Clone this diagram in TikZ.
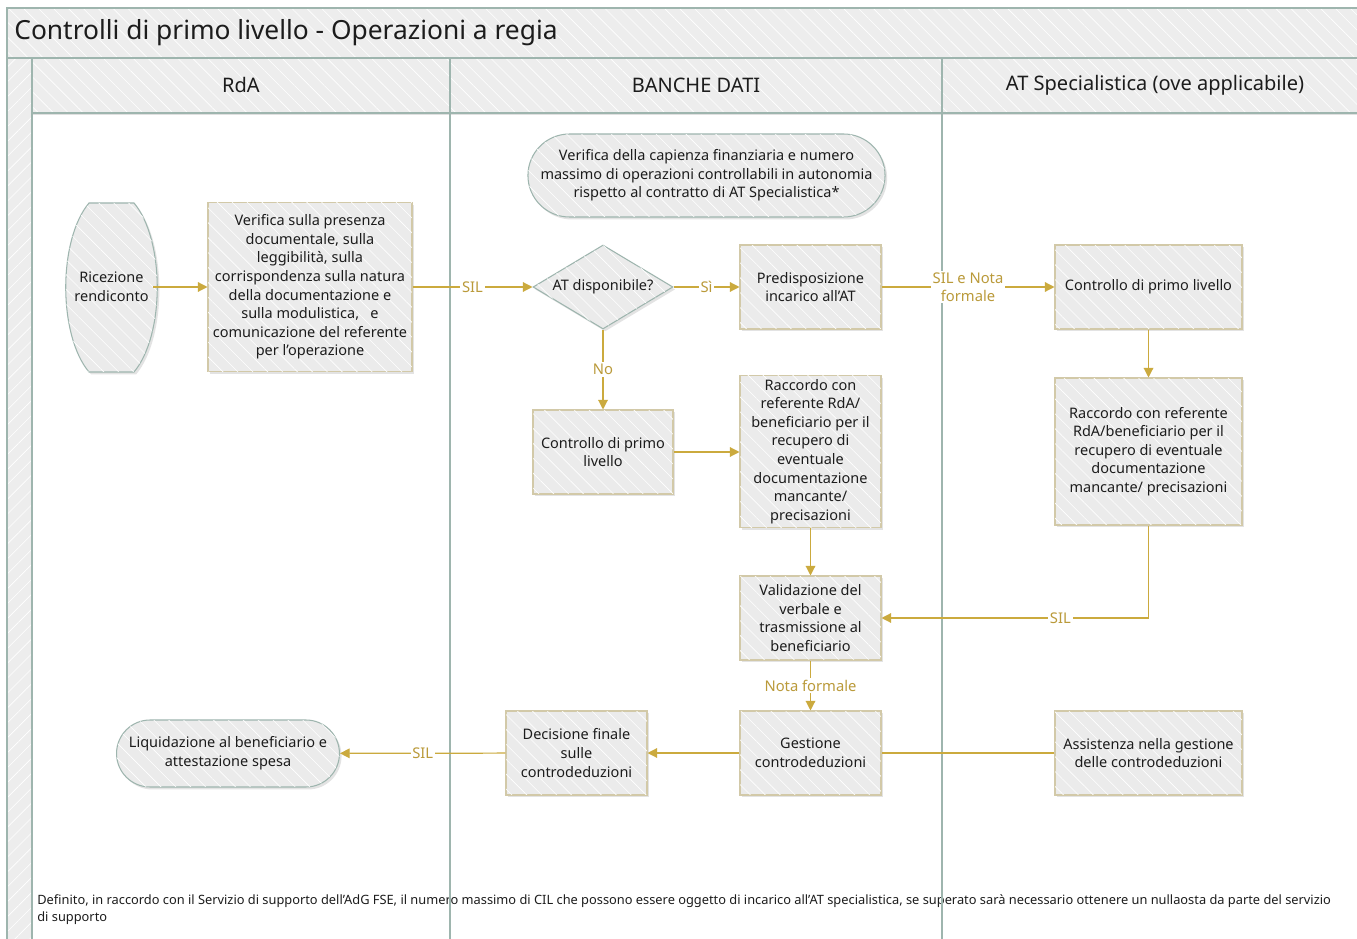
\documentclass[tikz,border=0pt]{standalone}
\usepackage{fontspec}
\setmainfont{Noto Sans}
\usepackage{tikz}
\usetikzlibrary{arrows.meta,shapes.geometric,shapes.misc,shadows,patterns.meta}
\definecolor{lanegrid}{RGB}{158,181,174}
\definecolor{headfill}{RGB}{237,237,237}
\definecolor{boxfill}{RGB}{235,235,235}
\definecolor{boxedge}{RGB}{210,201,168}
\definecolor{flowgold}{RGB}{203,170,62}
\definecolor{labelgold}{RGB}{186,154,58}
\definecolor{inktext}{RGB}{28,28,28}
\tikzstyle{hatched}=[postaction={pattern={Lines[angle=-45,distance=6pt,line width=0.35pt]},pattern color=white}]
\tikzstyle{hatchedup}=[postaction={pattern={Lines[angle=45,distance=6pt,line width=0.35pt]},pattern color=white}]
\tikzstyle{boxlook}=[draw=boxedge, fill=boxfill, line width=0.6pt, drop shadow={shadow xshift=1.2pt,shadow yshift=-1.4pt,opacity=0.22}, hatched]
\tikzstyle{procbox}=[boxlook, align=center, text=inktext, inner sep=2pt, font=\fontsize{8.25}{10.6}\selectfont]
\tikzstyle{termin}=[procbox, draw=lanegrid, rounded rectangle]
\tikzstyle{decision}=[procbox, draw=lanegrid, diamond, aspect=1.67, inner sep=0pt]
\tikzstyle{flowline}=[draw=flowgold, line width=0.7pt]
\tikzstyle{flow}=[flowline, -{Triangle[length=5.5pt,width=5.5pt]}]
\tikzstyle{flowlabel}=[fill=white, text=labelgold, font=\fontsize{8.4}{10}\selectfont, inner sep=1pt, align=center]
\tikzstyle{lanehead}=[font=\fontsize{11.4}{13}\selectfont, text=inktext]
\tikzstyle{laneline}=[draw=lanegrid, line width=0.7pt]

\begin{document}
\begin{tikzpicture}[x=0.02cm, y=-0.02cm]
	\useasboundingbox (0,0) rectangle (1357,939);
	\fill[white] (0,0) rectangle (1357,939);
	\fill[headfill, hatched] (7,8) rectangle (1362,58);
	\fill[headfill, hatchedup] (7,58) rectangle (32,942);
	\fill[headfill, hatched] (32,58) rectangle (1362,113);
	\fill[black!12] (32,113) rectangle (1362,115.5);
	\node[anchor=west, font=\fontsize{15}{18}\selectfont, text=inktext, inner sep=0pt] (title) at (14,33) {Controlli di primo livello - Operazioni a regia};
	\node[lanehead] (hrda) at (241,85) {RdA};
	\node[lanehead] (hbanche) at (696,85) {BANCHE DATI};
	\node[lanehead] (hat) at (1155,85) {AT Specialistica (ove applicabile)};
	\node[anchor=north west, align=left, font=\fontsize{7.3}{9.6}\selectfont, text=inktext, inner sep=0pt] (footnote) at (37,894) {Definito, in raccordo con il Servizio di supporto dell’AdG FSE, il numero massimo di CIL che possono essere oggetto di incarico all’AT specialistica, se superato sarà necessario ottenere un nullaosta da parte del servizio\\di supporto};
	\draw[laneline] (7,942) -- (7,8) -- (1362,8);
	\draw[laneline] (7,58) -- (1362,58);
	\draw[laneline] (32,113) -- (1362,113);
	\draw[laneline] (32,58) -- (32,942);
	\draw[laneline] (450,58) -- (450,942);
	\draw[laneline] (942,58) -- (942,942);

	\path[boxlook, draw=lanegrid] (89,203) .. controls (58,240) and (58,335) .. (89,372) -- (134,372) .. controls (165,335) and (165,240) .. (134,203) -- cycle;
	\node[align=center, text=inktext, font=\fontsize{8.25}{10.6}\selectfont, minimum width=1.66cm, minimum height=3.38cm, inner sep=0pt] (ricezione) at (111.5,287) {Ricezione\\rendiconto};
	\node[procbox, minimum width=4.08cm, minimum height=3.38cm] (verpres) at (310,287) {Verifica sulla presenza\\documentale, sulla\\leggibilità, sulla\\corrispondenza sulla natura\\della documentazione e\\sulla modulistica, \ \ e\\comunicazione del referente\\per l’operazione};
	\node[termin, minimum width=6.94cm, minimum height=1.66cm] (capienza) at (706.5,175.5) {Verifica della capienza finanziaria e numero\\massimo di operazioni controllabili in autonomia\\rispetto al contratto di AT Specialistica*};
	\node[decision, minimum width=2.8cm, minimum height=1.68cm] (atdisp) at (603,287) {AT disponibile?};
	\node[procbox, minimum width=2.82cm, minimum height=1.68cm] (predisp) at (810.5,287) {Predisposizione\\incarico all’AT};
	\node[procbox, minimum width=3.74cm, minimum height=1.68cm] (ctrlat) at (1148.5,287) {Controllo di primo livello};
	\node[procbox, minimum width=2.8cm, minimum height=1.68cm] (ctrlbd) at (603,452) {Controllo di primo\\livello};
	\node[procbox, minimum width=2.82cm, minimum height=2.94cm] (raccbd) at (810.5,451.5) {Raccordo con\\referente RdA/\\beneficiario per il\\recupero di\\eventuale\\documentazione\\mancante/\\precisazioni};
	\node[procbox, minimum width=3.74cm, minimum height=2.94cm] (raccat) at (1148.5,451.5) {Raccordo con referente\\RdA/beneficiario per il\\recupero di eventuale\\documentazione\\mancante/ precisazioni};
	\node[procbox, minimum width=2.82cm, minimum height=1.68cm] (valid) at (810.5,618) {Validazione del\\verbale e\\trasmissione al\\beneficiario};
	\node[procbox, minimum width=2.82cm, minimum height=1.68cm] (gestione) at (810.5,753) {Gestione\\controdeduzioni};
	\node[procbox, minimum width=2.82cm, minimum height=1.68cm] (decisione) at (576.5,753) {Decisione finale\\sulle\\controdeduzioni};
	\node[procbox, minimum width=3.74cm, minimum height=1.68cm] (assist) at (1148.5,753) {Assistenza nella gestione\\delle controdeduzioni};
	\node[termin, minimum width=4.6cm, minimum height=1.34cm] (liquid) at (228,753.5) {Liquidazione al beneficiario e\\attestazione spesa};

	\draw[flow] (ricezione) -- (verpres);
	\draw[flow] (verpres) -- node[flowlabel] {SIL} (atdisp);
	\draw[flow] (atdisp) -- node[flowlabel] {Sì} (predisp);
	\draw[flow] (predisp) -- node[flowlabel] {SIL e Nota\\formale} (ctrlat);
	\draw[flow] (atdisp) -- node[flowlabel] {No} (ctrlbd);
	\draw[flow] (ctrlbd) -- (ctrlbd -| raccbd.west);
	\draw[flow] (ctrlat) -- (raccat);
	\draw[flow] (raccbd) -- (valid);
	\draw[flow] (raccat) |- node[flowlabel, pos=0.665] {SIL} (valid);
	\draw[flow] (valid) -- node[flowlabel] {Nota formale} (gestione);
	\draw[flow] (gestione) -- (decisione);
	\draw[flow] (decisione) -- node[flowlabel] {SIL} (liquid);
	\draw[flowline] (assist) -- (gestione);
\end{tikzpicture}
\end{document}
